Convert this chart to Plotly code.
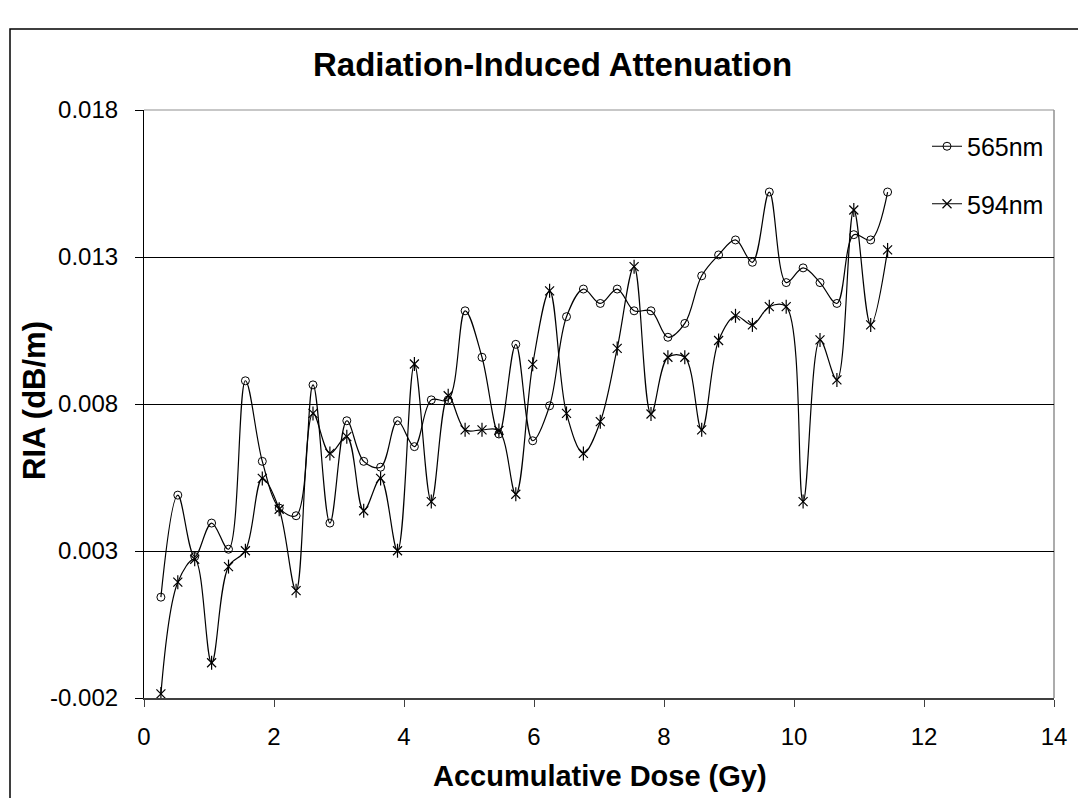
import plotly.graph_objects as go

dose_gy = [0.26, 0.52, 0.78, 1.04, 1.30, 1.56, 1.82, 2.08, 2.34, 2.60, 2.86, 3.12,
           3.38, 3.64, 3.90, 4.16, 4.42, 4.68, 4.94, 5.20, 5.46, 5.72, 5.98, 6.24,
           6.50, 6.76, 7.02, 7.28, 7.54, 7.80, 8.06, 8.32, 8.58, 8.84, 9.10, 9.36,
           9.62, 9.88, 10.14, 10.40, 10.66, 10.92, 11.18, 11.44]

ria_565 = [0.00143, 0.00490, 0.00281, 0.00395, 0.00306, 0.00879, 0.00605, 0.00446,
           0.00420, 0.00865, 0.00395, 0.00743, 0.00605, 0.00585, 0.00743, 0.00655,
           0.00814, 0.00814, 0.01117, 0.00959, 0.00698, 0.01003, 0.00675, 0.00794,
           0.01097, 0.01191, 0.01142, 0.01191, 0.01117, 0.01117, 0.01027, 0.01074,
           0.01236, 0.01307, 0.01358, 0.01282, 0.01521, 0.01213, 0.01263, 0.01213,
           0.01142, 0.01376, 0.01358, 0.01521]

ria_594 = [-0.00186, 0.00194, 0.00272, -0.00080, 0.00247, 0.00301, 0.00547, 0.00442,
           0.00165, 0.00768, 0.00632, 0.00689, 0.00437, 0.00547, 0.00301, 0.00936,
           0.00468, 0.00828, 0.00712, 0.00712, 0.00710, 0.00493, 0.00935, 0.01185,
           0.00768, 0.00632, 0.00740, 0.00989, 0.01267, 0.00766, 0.00959, 0.00959,
           0.00712, 0.01016, 0.01100, 0.01069, 0.01131, 0.01131, 0.00468, 0.01018,
           0.00882, 0.01460, 0.01069, 0.01324]

series_names = ["565nm", "594nm"]
x_tick_vals = [0, 2, 4, 6, 8, 10, 12, 14]
y_tick_vals = [-0.002, 0.003, 0.008, 0.013, 0.018]
y_tick_text = ["-0.002", "0.003", "0.008", "0.013", "0.018"]

title_text = "Radiation-Induced Attenuation"
x_title = "Accumulative Dose (Gy)"
y_title = "RIA (dB/m)"

FONT = "Liberation Sans, Arial, sans-serif"

fig = go.Figure()

fig.add_trace(go.Scatter(
    x=dose_gy, y=ria_565, name=series_names[0], mode="lines+markers",
    line=dict(color="black", width=1.2, shape="spline", smoothing=1.0),
    marker=dict(symbol="circle-open", size=8, color="black", line=dict(width=1)),
    legendgroup="a",
))
fig.add_trace(go.Scatter(
    x=dose_gy, y=ria_594, name=series_names[1], mode="lines+markers",
    line=dict(color="black", width=1.2, shape="spline", smoothing=1.0),
    marker=dict(symbol="x-thin-open", size=9, color="black", line=dict(width=1.2)),
    legendgroup="b",
))
fig.add_trace(go.Scatter(
    x=dose_gy, y=ria_594, name=series_names[1], mode="markers",
    marker=dict(symbol="line-ns-open", size=10, color="black", line=dict(width=1.2)),
    legendgroup="b", showlegend=False, hoverinfo="skip",
))

# page body adds an 8px offset
OFF = 8
W, H = 1078, 790
L, R, T, B = 136, 32, 102, 100
pw, ph = W - L - R, H - T - B

def px_x(p):
    return (p - OFF - L) / pw

def px_y(p):
    return (H - B - (p - OFF)) / ph

fig.update_layout(
    width=W, height=H,
    margin=dict(l=L, r=R, t=T, b=B, pad=0),
    paper_bgcolor="white", plot_bgcolor="white",
    font=dict(family=FONT, color="black", size=24),
    showlegend=True,
    legend=dict(
        x=px_x(927), y=px_y(175), xanchor="left", yanchor="middle",
        font=dict(family=FONT, size=25, color="black"),
        bgcolor="rgba(0,0,0,0)", borderwidth=0,
        traceorder="grouped", tracegroupgap=22,
    ),
    xaxis=dict(
        range=[0, 14], tickvals=x_tick_vals, ticks="outside", ticklen=7,
        tickcolor="#404040", showline=True, linecolor="#404040", linewidth=1.5,
        showgrid=False, zeroline=False, tickfont=dict(size=24),
        ticklabelstandoff=9,
    ),
    yaxis=dict(
        range=[-0.002, 0.018], tickvals=y_tick_vals, ticktext=y_tick_text,
        ticks="outside", ticklen=8, tickcolor="black",
        showline=True, linecolor="black", linewidth=1.2,
        showgrid=True, gridcolor="black", gridwidth=1, zeroline=False,
        tickfont=dict(size=24), ticklabelstandoff=12,
    ),
    annotations=[
        dict(text="<b>" + title_text + "</b>", xref="paper", yref="paper",
             x=px_x(552), y=px_y(64), xanchor="center", yanchor="middle",
             showarrow=False, font=dict(family=FONT, size=33, color="black")),
        dict(text="<b>" + x_title + "</b>", xref="paper", yref="paper",
             x=px_x(600), y=px_y(776), xanchor="center", yanchor="middle",
             showarrow=False, font=dict(family=FONT, size=29, color="black")),
        dict(text="<b>" + y_title + "</b>", xref="paper", yref="paper",
             x=px_x(34), y=px_y(401), xanchor="center", yanchor="middle",
             textangle=-90, showarrow=False,
             font=dict(family=FONT, size=31, color="black")),
    ],
    shapes=[
        dict(type="line", xref="paper", yref="paper", x0=0, x1=1, y0=1, y1=1,
             line=dict(color="#909090", width=1.2), layer="below"),
        dict(type="line", xref="paper", yref="paper", x0=1, x1=1, y0=0, y1=1,
             line=dict(color="#909090", width=1.5), layer="below"),
        dict(type="rect", xref="paper", yref="paper",
             x0=px_x(10), x1=px_x(1200), y0=px_y(900), y1=px_y(29),
             line=dict(color="black", width=1.5), fillcolor="rgba(0,0,0,0)"),
    ],
)

fig.write_html("out.html")
